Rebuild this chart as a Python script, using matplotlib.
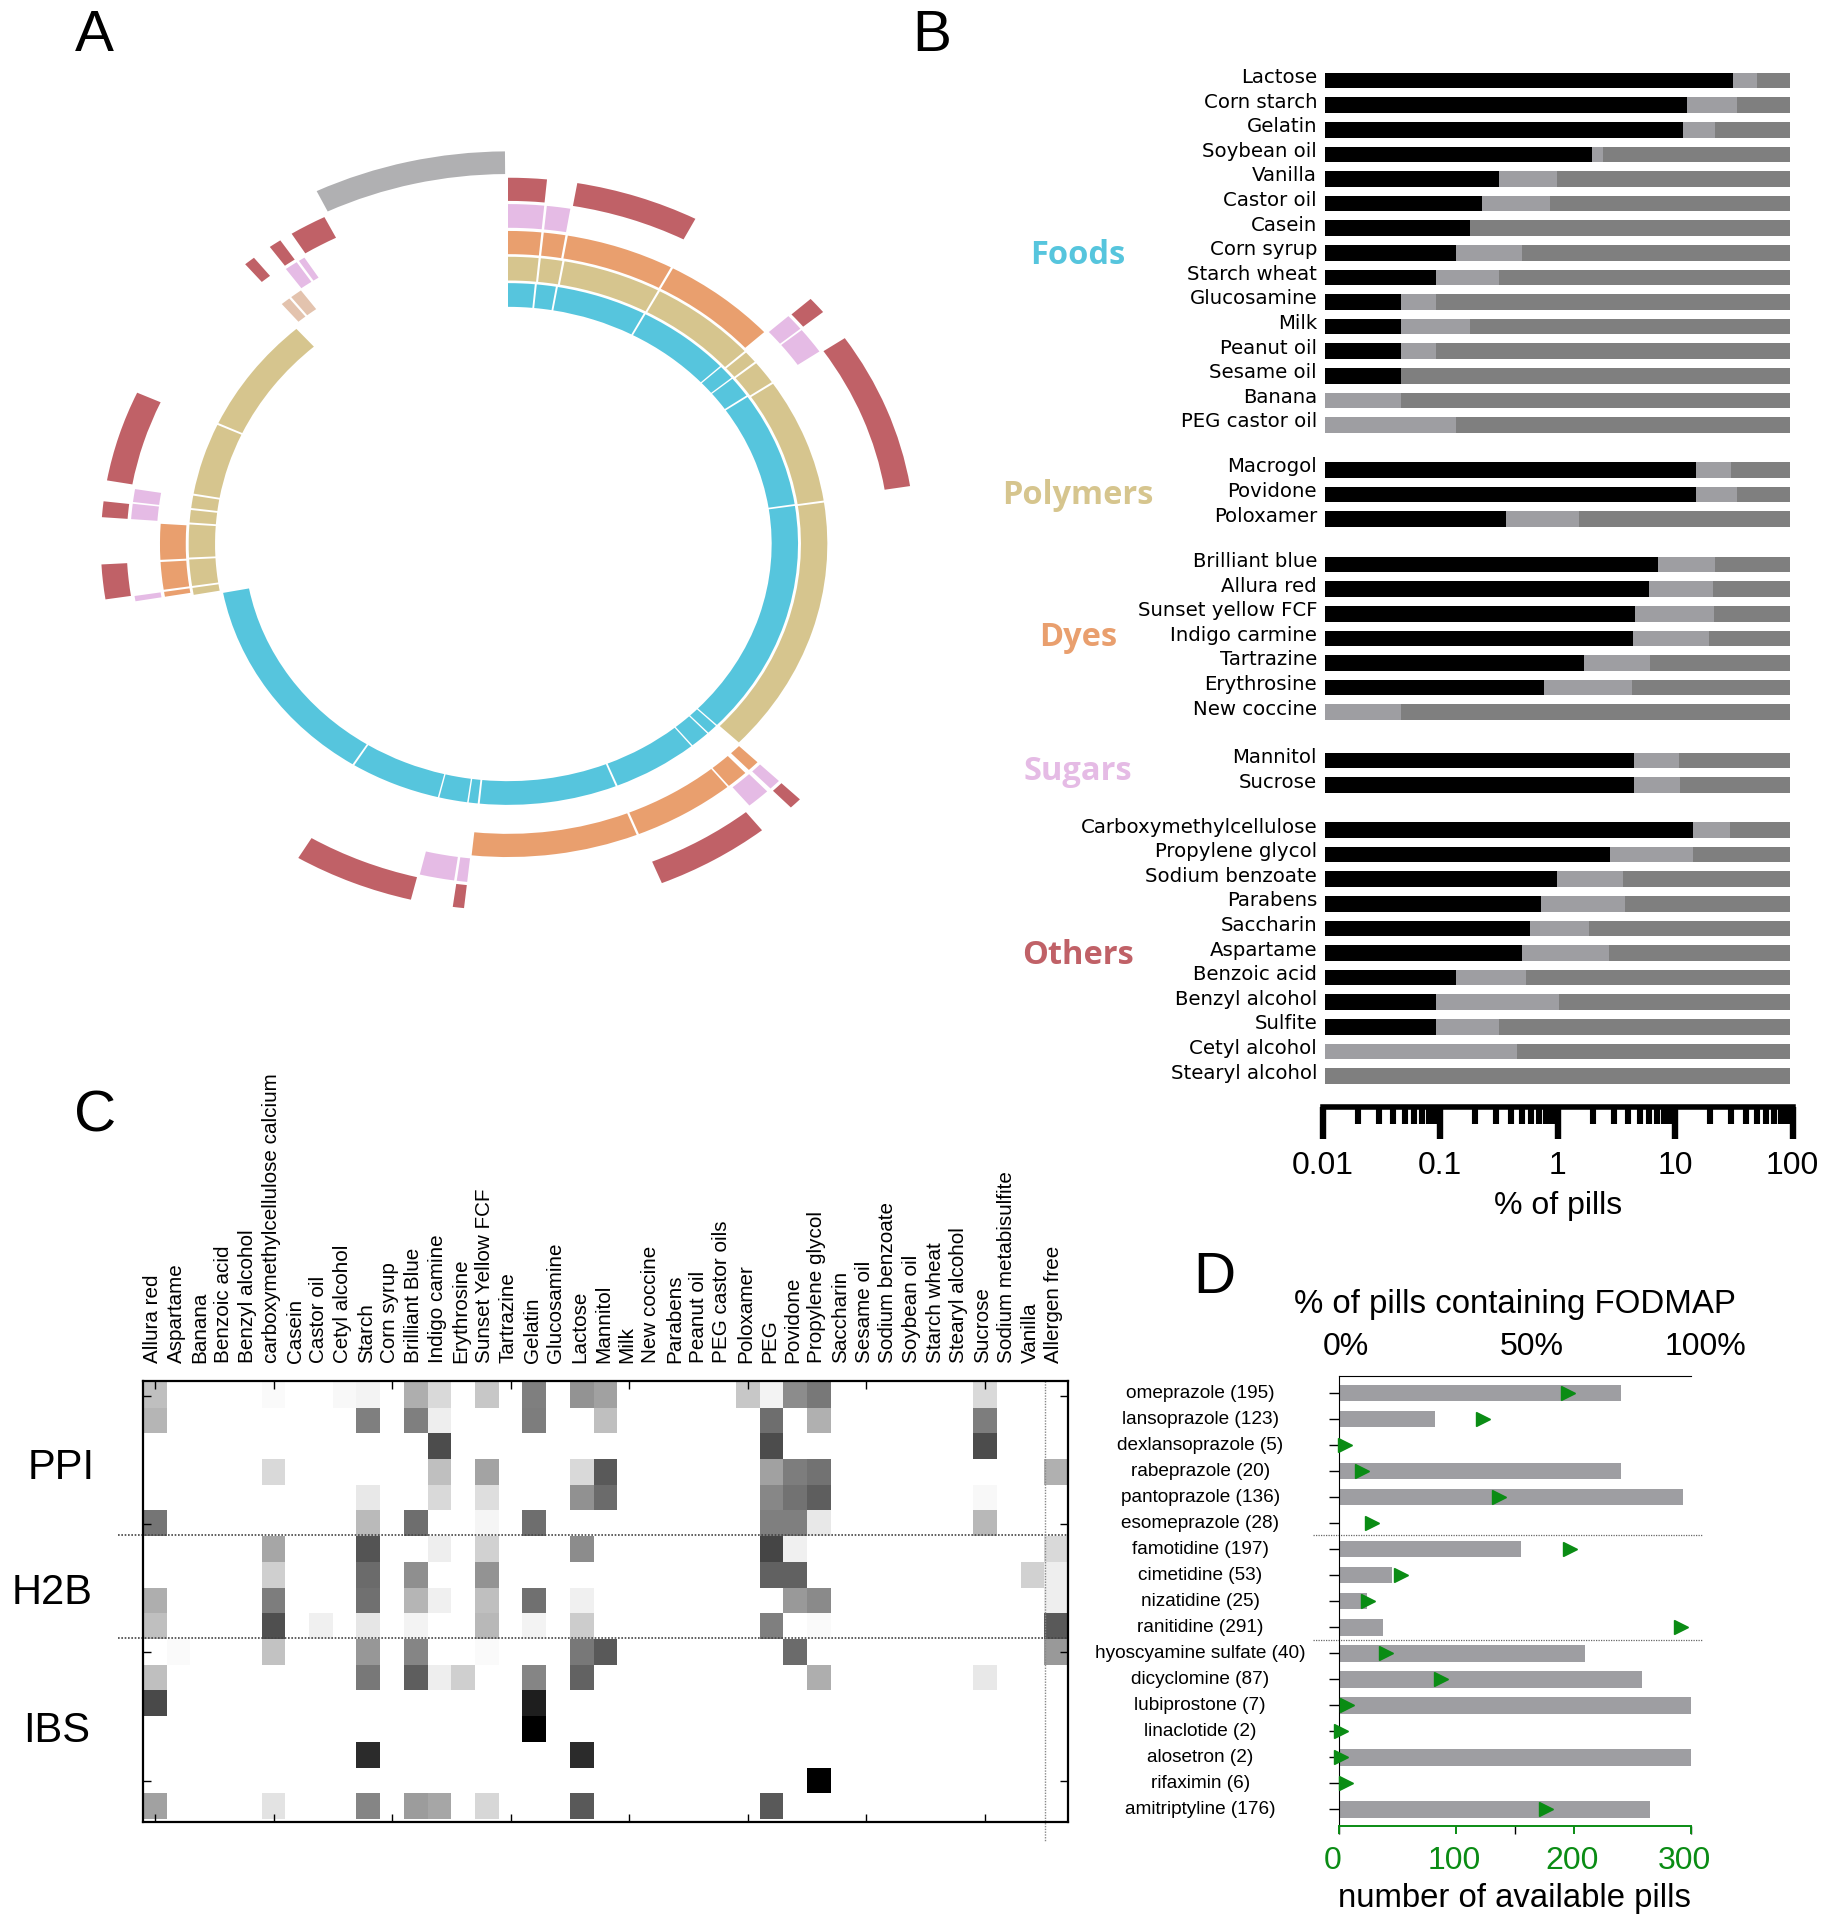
#!/usr/bin/env python3
"""Excipient panels: ring overview, % of pills bars, drug heatmap, FODMAP bars"""

import matplotlib
matplotlib.use('Agg')
import matplotlib.pyplot as plt
from matplotlib.patches import Wedge
from matplotlib.ticker import LogLocator, NullFormatter
import numpy as np

plt.rcParams['font.family'] = 'Liberation Sans'

W, H = 1826, 1920
CYAN = '#56C5DD'
TAN = '#D6C58E'
ORANGE = '#E99F6E'
PINK = '#E5BBE5'
RED = '#C06167'
FADED = '#E3C3AE'
SILVER = '#B0B0B2'
LIGHT = '#9E9EA2'
DARK = '#7F7F7F'
GREEN = '#0A8C14'

# ── panel A: ring spans, degrees clockwise from north ──
foods_spans = [(0, 5.3), (5.7, 9.5), (9.9, 27.9), (28.3, 47.0), (47.3, 50.4), (50.7, 55.3),
               (55.7, 81.2), (81.6, 133.9), (134.2, 136.3), (136.6, 140.5), (140.8, 157.8),
               (158.2, 185.6), (186.0, 187.8), (188.1, 193.7), (194.0, 212.0), (212.4, 259.2)]
polymer_spans = [(0, 5.5), (5.9, 9.8), (10.2, 28.0), (28.4, 47.8), (48.2, 50.6), (51.0, 55.7),
                 (56.1, 81.3), (81.7, 133.7), (259.8, 261.2), (261.6, 266.9), (267.3, 273.9),
                 (274.3, 276.8), (277.2, 279.7), (280.1, 294.5), (294.9, 318.5)]
dye_spans = [(0, 5.5), (5.9, 9.5), (9.9, 27.9), (28.3, 47.4), (134.2, 136.2), (137.0, 140.6),
             (140.9, 157.9), (158.3, 186.0), (260.3, 261.2), (261.6, 266.7), (267.1, 273.7)]
faded_spans = [(319.7, 321.3), (321.7, 323.7)]
sugar_spans = [(0, 5.5), (5.9, 9.5), (47.9, 50.7), (51.0, 55.5), (134.2, 136.0), (136.7, 140.3),
               (186.2, 187.8), (188.2, 193.5), (260.3, 261.2), (274.2, 276.8), (277.1, 279.3),
               (324.0, 326.0), (326.4, 327.4)]
other_spans = [(0, 5.5), (9.8, 27.4), (48.0, 50.7), (55.8, 80.9), (134.2, 136.0), (141.4, 157.8),
               (186.2, 187.8), (193.8, 211.0), (261.3, 266.8), (274.2, 276.7), (280.0, 294.4),
               (319.8, 321.4), (324.2, 326.0), (327.9, 333.2)]
none_spans = [(334.0, 359.6)]

# ── panel B: % of pills (black = main, light = up to) ──
foods = ['Lactose', 'Corn starch', 'Gelatin', 'Soybean oil', 'Vanilla', 'Castor oil', 'Casein',
         'Corn syrup', 'Starch wheat', 'Glucosamine', 'Milk', 'Peanut oil', 'Sesame oil',
         'Banana', 'PEG castor oil']
foods_black = [31.4, 12.6, 11.7, 1.97, 0.318, 0.226, 0.181, 0.137, 0.0925, 0.0464, 0.0464, 0.0464, 0.0464, 0, 0]
foods_light = [49.4, 33.4, 21.7, 2.44, 0.998, 0.864, 0.181, 0.50, 0.318, 0.0925, 0.181, 0.0925, 0.0464, 0.0464, 0.137]
polymers = ['Macrogol', 'Povidone', 'Poloxamer']
polymers_black = [15.1, 15.0, 0.364]
polymers_light = [30.1, 33.4, 1.52]
dyes = ['Brilliant blue', 'Allura red', 'Sunset yellow FCF', 'Indigo carmine', 'Tartrazine',
        'Erythrosine', 'New coccine']
dyes_black = [7.13, 5.99, 4.58, 4.40, 1.69, 0.764, 0]
dyes_light = [21.7, 21.0, 21.3, 19.6, 6.11, 4.31, 0.0464]
sugars = ['Mannitol', 'Sucrose']
sugars_black = [4.49, 4.44]
sugars_light = [10.8, 11.0]
others = ['Carboxymethylcellulose', 'Propylene glycol', 'Sodium benzoate', 'Parabens', 'Saccharin',
          'Aspartame', 'Benzoic acid', 'Benzyl alcohol', 'Sulfite', 'Cetyl alcohol', 'Stearyl alcohol']
others_black = [14.1, 2.79, 0.988, 0.718, 0.585, 0.495, 0.137, 0.0925, 0.0925, 0, 0]
others_light = [29.2, 14.1, 3.61, 3.77, 1.87, 2.77, 0.544, 1.03, 0.318, 0.452, 0]

# ── panel C: darkness in %, {column: value} per drug row ──
columns = ['Allura red', 'Aspartame', 'Banana', 'Benzoic acid', 'Benzyl alcohol',
           'carboxymethylcellulose calcium', 'Casein', 'Castor oil', 'Cetyl alcohol', 'Starch',
           'Corn syrup', 'Brilliant Blue', 'Indigo camine', 'Erythrosine', 'Sunset Yellow FCF',
           'Tartrazine', 'Gelatin', 'Glucosamine', 'Lactose', 'Mannitol', 'Milk', 'New coccine',
           'Parabens', 'Peanut oil', 'PEG castor oils', 'Poloxamer', 'PEG', 'Povidone',
           'Propylene glycol', 'Saccharin', 'Sesame oil', 'Sodium benzoate', 'Soybean oil',
           'Starch wheat', 'Stearyl alcohol', 'Sucrose', 'Sodium metabisulfite', 'Vanilla',
           'Allergen free']
heat_rows = [
    {0: 25, 5: 2, 8: 3, 9: 5, 11: 32, 12: 15, 14: 22, 16: 50, 18: 42, 19: 37, 25: 22, 26: 5, 27: 45, 28: 53, 35: 15},
    {0: 29, 9: 50, 11: 50, 12: 7, 16: 51, 19: 25, 26: 57, 28: 31, 35: 51},
    {12: 70, 26: 70, 35: 70},
    {5: 15, 12: 25, 14: 36, 18: 15, 19: 65, 26: 37, 27: 51, 28: 55, 38: 31},
    {9: 9, 12: 15, 14: 13, 18: 43, 19: 58, 26: 47, 27: 55, 28: 63, 35: 3},
    {0: 54, 9: 27, 11: 57, 14: 4, 16: 57, 26: 50, 27: 50, 28: 9, 35: 28},
    {5: 35, 9: 67, 12: 7, 14: 18, 18: 45, 26: 73, 27: 6, 38: 15},
    {5: 19, 9: 58, 11: 44, 14: 42, 26: 62, 27: 62, 37: 18, 38: 7},
    {0: 32, 5: 51, 9: 56, 11: 29, 12: 6, 14: 25, 16: 56, 18: 6, 27: 40, 28: 46, 38: 7},
    {0: 25, 5: 69, 7: 6, 9: 10, 11: 5, 14: 28, 16: 5, 18: 20, 26: 50, 28: 2, 38: 65},
    {1: 2, 5: 24, 9: 41, 11: 48, 14: 2, 18: 53, 19: 65, 27: 58, 38: 40},
    {0: 25, 9: 53, 11: 63, 12: 7, 13: 19, 16: 48, 18: 61, 28: 32, 35: 9},
    {0: 71, 16: 88},
    {16: 100},
    {9: 83, 18: 83},
    {28: 100},
    {0: 37, 5: 11, 9: 48, 11: 39, 12: 35, 14: 16, 18: 65, 26: 65},
]
heat_groups = ['PPI', 'H2B', 'IBS']

# ── panel D ──
drugs = ['omeprazole', 'lansoprazole', 'dexlansoprazole', 'rabeprazole', 'pantoprazole',
         'esomeprazole', 'famotidine', 'cimetidine', 'nizatidine', 'ranitidine',
         'hyoscyamine sulfate', 'dicyclomine', 'lubiprostone', 'linaclotide', 'alosetron',
         'rifaximin', 'amitriptyline']
pill_counts = [195, 123, 5, 20, 136, 28, 197, 53, 25, 291, 40, 87, 7, 2, 2, 6, 176]
fodmap_pct = [80, 27.4, 0, 80, 97.6, 0, 51.7, 15, 7.9, 12.6, 69.8, 86, 99.8, 0, 99.8, 0, 88.4]


def add_axes_px(x0, y0, x1, y1):
    return fig.add_axes([x0 / W, 1 - y1 / H, (x1 - x0) / W, (y1 - y0) / H])


def text_px(x, y, s, **kw):
    kw.setdefault('ha', 'center')
    kw.setdefault('va', 'center')
    fig.text(x / W, 1 - y / H, s, **kw)


def draw_ring(ax, spans, r0, r1, color):
    for start, stop in spans:
        ax.add_patch(Wedge((0, 0), r1, 90 - stop, 90 - start, width=r1 - r0, fc=color, ec='none'))


fig = plt.figure(figsize=(W / 100, H / 100), dpi=100, facecolor='white')

# ── A ──
CX, CY, SX, SY = 508, 544, 0.5859, 0.527
ax = add_axes_px(60, 120, 960, 950)
ax.set_xlim((60 - CX) / SX, (960 - CX) / SX)
ax.set_ylim((CY - 950) / SY, (CY - 120) / SY)
ax.axis('off')
draw_ring(ax, foods_spans, 450, 495, CYAN)
draw_ring(ax, polymer_spans, 500, 545, TAN)
draw_ring(ax, dye_spans, 550, 594, ORANGE)
draw_ring(ax, faded_spans, 553, 597, FADED)
draw_ring(ax, sugar_spans, 600, 645, PINK)
draw_ring(ax, other_spans, 651, 695, RED)
draw_ring(ax, none_spans, 702, 745, SILVER)

# ── B ──
BAR_MIN, BAR_MAX = 0.0105, 95.5
ROW = 24.6
ax = add_axes_px(1322.5, 60, 1792.5, 1107)
ax.set_xscale('log')
ax.set_xlim(0.01, 100)
ax.set_ylim(1107, 60)
groups = [(80.5, foods, foods_black, foods_light), (469.8, polymers, polymers_black, polymers_light),
          (564.5, dyes, dyes_black, dyes_light), (760.5, sugars, sugars_black, sugars_light),
          (830, others, others_black, others_light)]
for top, names, black, light in groups:
    y = top + np.arange(len(names)) * ROW
    b = np.maximum(black, BAR_MIN)
    l = np.maximum(light, BAR_MIN)
    ax.barh(y, BAR_MAX - BAR_MIN, 15.6, left=BAR_MIN, color=DARK)
    ax.barh(y, l - BAR_MIN, 15.6, left=BAR_MIN, color=LIGHT)
    ax.barh(y, b - BAR_MIN, 15.6, left=BAR_MIN, color='black')
    for yy, name in zip(y, names):
        # labels sit a little above the bar centre
        ax.text(-0.0115, yy - 3.0, name, ha='right', va='center', fontsize=14.2,
                family='DejaVu Sans', transform=ax.get_yaxis_transform())
ax.set_yticks([])
for s in ['top', 'left', 'right']:
    ax.spines[s].set_visible(False)
ax.spines['bottom'].set_linewidth(4)
ax.set_xticks([0.01, 0.1, 1, 10, 100])
ax.set_xticklabels(['0.01', '0.1', '1', '10', '100'], fontsize=23)
ax.xaxis.set_minor_locator(LogLocator(base=10, subs=np.arange(2, 10), numticks=10))
ax.xaxis.set_minor_formatter(NullFormatter())
ax.tick_params(axis='x', which='major', length=23, width=4.6, pad=8.5)
ax.tick_params(axis='x', which='minor', length=12, width=4.4)
text_px(1558, 1206, '% of pills', fontsize=23)

for y, name, color in [(255, 'Foods', CYAN), (495, 'Polymers', TAN), (637, 'Dyes', ORANGE),
                       (772, 'Sugars', PINK), (956, 'Others', RED)]:
    text_px(1078, y, name, color=color, fontsize=23.5, fontweight='bold', family='Open Sans')

# ── C ──
heat = np.zeros((len(heat_rows), len(columns)))
for i, row in enumerate(heat_rows):
    for j, v in row.items():
        heat[i, j] = v
ax = add_axes_px(143.3, 1380.7, 1068, 1821.7)
ax.imshow(heat, cmap='gray_r', vmin=0, vmax=100, aspect='auto', interpolation='nearest')
ax.set_xlim(-0.5, 38.5)
ax.set_ylim(16.6, -0.58)
for s in ax.spines.values():
    s.set_linewidth(1.6)
ax.set_xticks(np.arange(0, 36, 5))
ax.set_yticks([0, 5, 10, 15])
ax.set_xticklabels([])
ax.set_yticklabels([])
ax.tick_params(direction='in', top=True, right=True, length=6, width=1)
for i, name in enumerate(columns):
    ax.text(i - 0.1, 1.04, name, rotation=90, ha='center', va='bottom', fontsize=14.9,
            transform=ax.get_xaxis_transform())
for y in [5.42, 9.45]:
    ax.plot([-1.57, 38.5], [y, y], color='#444444', lw=1.2, ls=(0, (1, 1)), clip_on=False)
ax.plot([37.55, 37.55], [-0.58, 17.4], color='#888888', lw=1, ls=(0, (1, 1)), clip_on=False)
for y, name in zip([1468, 1593, 1731], heat_groups):
    text_px({'PPI': 61, 'H2B': 52, 'IBS': 57}[name], y, name, fontsize=30)

# ── D ──
ax = add_axes_px(1338.7, 1375.7, 1691.4, 1826)
ax.set_xlim(0, 100)
ax.set_ylim(16.65, -0.665)
y = np.arange(len(drugs))
ax.barh(y, fodmap_pct, 0.65, color=LIGHT)
ax.set_yticks(y)
ax.set_yticklabels([])
ax.xaxis.tick_top()
ax.set_xticks([0, 50, 100])
ax.set_xticklabels([])
ax.tick_params(axis='x', length=6, width=1)
ax.tick_params(axis='y', length=7.5, width=1)
ax.spines['right'].set_visible(False)
ax.spines['bottom'].set_visible(False)
for yy in [5.45, 9.5]:
    ax.plot([-7.4, 103], [yy, yy], color='#666666', lw=0.9, ls=(0, (1, 1)), clip_on=False)
for i, (name, n) in enumerate(zip(drugs, pill_counts)):
    ax.text(-39.3, i + 0.03, f'{name} ({n})', ha='center', va='center', fontsize=13.7, clip_on=False)

ax2 = ax.twiny()
ax2.set_xlim(0, 300)
ax2.plot(pill_counts, y, linestyle='none', marker='>', color=GREEN, markersize=10, clip_on=False)
ax2.xaxis.tick_bottom()
ax2.set_xticks([0, 100, 200, 300])
ax2.set_xticklabels([])
ax2.tick_params(axis='x', length=6, width=1.4, color=GREEN)
for s in ['top', 'left', 'right']:
    ax2.spines[s].set_visible(False)
ax2.spines['bottom'].set_color(GREEN)
ax2.spines['bottom'].set_linewidth(1.4)

for x, s in [(1333, '0'), (1454, '100'), (1572, '200'), (1684, '300')]:
    text_px(x, 1861, s, color=GREEN, fontsize=23)
for x, s in [(1346, '0%'), (1532, '50%'), (1705, '100%')]:
    text_px(x, 1347, s, fontsize=23)
text_px(1515, 1304, '% of pills containing FODMAP', fontsize=23.8)
text_px(1514.6, 1898, 'number of available pills', fontsize=23.7)

# ── panel letters ──
for x, y, s in [(94, 36, 'A'), (932, 36, 'B'), (95, 1116, 'C'), (1214, 1278, 'D')]:
    text_px(x, y, s, fontsize=42)

fig.savefig('out.png', dpi=100, facecolor='white')
